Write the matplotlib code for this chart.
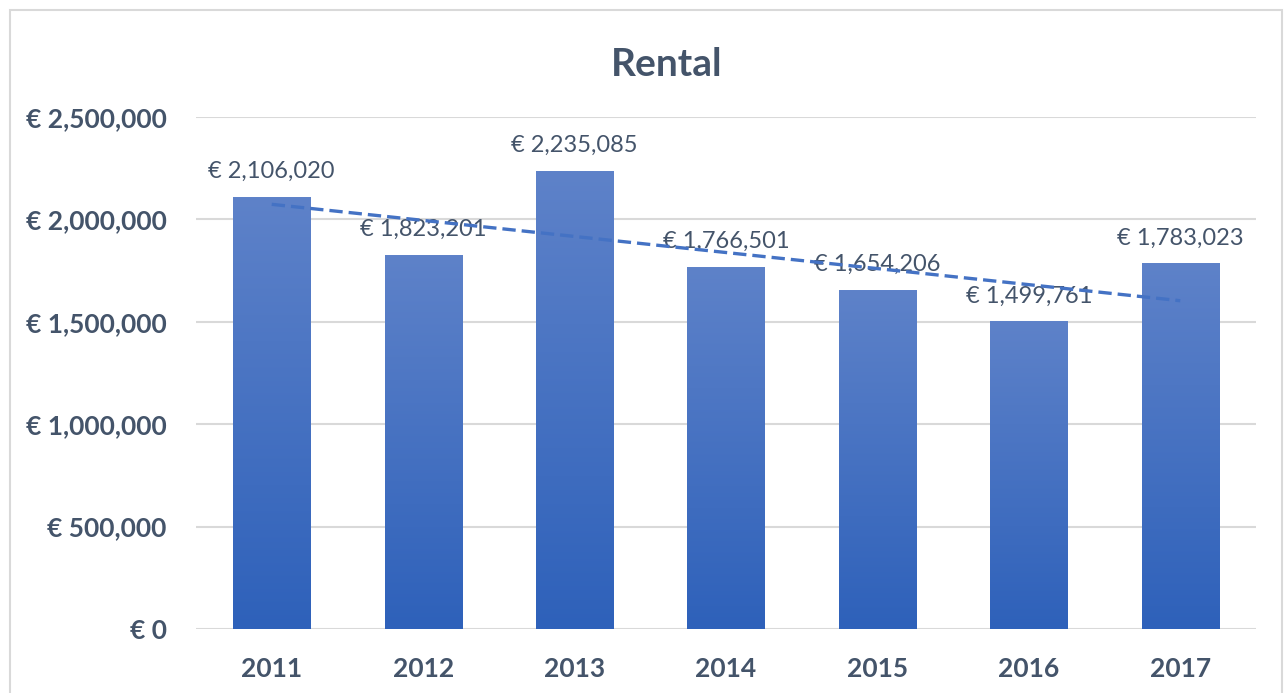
import matplotlib.pyplot as plt
import numpy as np
from matplotlib.colors import LinearSegmentedColormap
from matplotlib.patches import Rectangle
from matplotlib.ticker import FuncFormatter

years = ['2011', '2012', '2013', '2014', '2015', '2016', '2017']
rental = [2106020, 1823201, 2235085, 1766501, 1654206, 1499761, 1783023]

TEXT = '#44546A'
GRID = '#D9D9D9'
plt.rcParams['font.family'] = ['Lato', 'DejaVu Sans']

fig = plt.figure(figsize=(12.87, 6.93), dpi=100)
# plot area in pixels: x 196..1256, y 117..629 (from top)
ax = fig.add_axes([196 / 1287, (693 - 629) / 693, 1060 / 1287, 512 / 693])

# chart border
fig.patches.append(Rectangle((10 / 1287, -0.05), 1272 / 1287, 1.05 - 10 / 693,
                             transform=fig.transFigure, fill=False,
                             edgecolor=GRID, linewidth=1.5))

x = np.arange(len(years))
width = 0.51
cmap = LinearSegmentedColormap.from_list('bar', ['#2E61BA', '#5E82C9'])
grad = np.linspace(0, 1, 256).reshape(-1, 1)
bars = ax.bar(x, rental, width=width, color='none', zorder=2)
for b in bars:
    x0, h = b.get_x(), b.get_height()
    ax.imshow(grad, cmap=cmap, origin='lower', aspect='auto',
              extent=[x0, x0 + width, 0, h], zorder=2)

# linear trendline
k, c = np.polyfit(x, rental, 1)
ax.plot(x, k * x + c, color='#4472C4', linewidth=2.4,
        dashes=(4, 1.8), zorder=4)

for xi, v in zip(x, rental):
    ax.text(xi, v + 75000, f'€ {v:,}', ha='center', va='bottom',
            fontsize=17, color=TEXT, zorder=3)

ax.set_xlim(-0.5, len(years) - 0.5)
ax.set_ylim(0, 2500000)
ax.set_yticks(np.arange(0, 2500001, 500000))
ax.yaxis.set_major_formatter(FuncFormatter(lambda v, p: f'€ {int(v):,}'))
ax.set_xticks(x)
ax.set_xticklabels(years)
ax.grid(axis='y', color=GRID, linewidth=1.5, zorder=0)
ax.set_axisbelow(True)
for s in ax.spines.values():
    s.set_visible(False)
ax.tick_params(length=0, labelcolor=TEXT, labelsize=19)
ax.tick_params(axis='y', pad=21)
ax.tick_params(axis='x', pad=20)
for lab in ax.get_xticklabels() + ax.get_yticklabels():
    lab.set_fontweight('bold')

fig.text(667 / 1287, 1 - 64 / 693, 'Rental', ha='center', va='center',
         fontsize=28, fontweight='bold', color=TEXT)

fig.savefig('out.png', dpi=100)
